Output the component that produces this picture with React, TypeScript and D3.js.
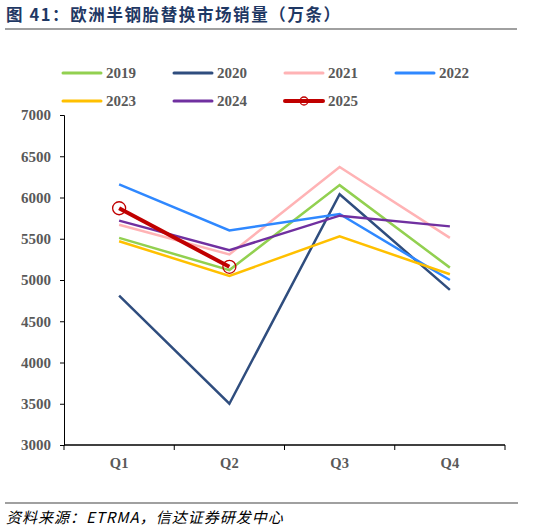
import React, { useRef, useEffect } from 'react';
import * as d3 from 'd3';

const quarters = ['Q1', 'Q2', 'Q3', 'Q4'];
const yTicks = [3000, 3500, 4000, 4500, 5000, 5500, 6000, 6500, 7000];

const years = ['2019', '2020', '2021', '2022', '2023', '2024', '2025'];
const colors = ['#92D050', '#2F4D7E', '#FFB3B5', '#2F88FF', '#FFC000', '#7030A0', '#C00000'];

const s2019 = [5510, 5120, 6150, 5150];
const s2020 = [4810, 3500, 6040, 4880];
const s2021 = [5670, 5310, 6370, 5510];
const s2022 = [6160, 5600, 5800, 5000];
const s2023 = [5470, 5050, 5530, 5070];
const s2024 = [5720, 5360, 5780, 5650];
const s2025 = [5870, 5160];

const series = [s2019, s2020, s2021, s2022, s2023, s2024, s2025];

const W = 538;
const H = 532;

export default function App() {
    const svgRef = useRef<SVGSVGElement>(null);

    useEffect(() => {
        if (!svgRef.current) return;
        const svg = d3.select(svgRef.current);
        svg.selectAll('*').remove();

        const left = 64, right = 505, top = 115, bottom = 445;
        const axisFont = 'Liberation Serif, Times New Roman, serif';
        const grey = '#595959';

        // title
        svg.append('text')
            .attr('x', 6).attr('y', 21)
            .style('font-family', 'Noto Sans CJK SC, sans-serif')
            .style('font-weight', 'bold')
            .style('font-size', '16.5px')
            .style('letter-spacing', '1.6px')
            .attr('fill', '#1F3864')
            .text('图 41：欧洲半钢胎替换市场销量（万条）');

        svg.append('line')
            .attr('x1', 5).attr('x2', 517).attr('y1', 29).attr('y2', 29)
            .attr('stroke', '#808080').attr('stroke-width', 1.5);

        const x = d3.scaleBand().domain(quarters).range([left, right]);
        const y = d3.scaleLinear().domain([3000, 7000]).range([bottom, top]);

        // y axis
        const gy = svg.append('g').attr('transform', `translate(${left},0)`)
            .call(d3.axisLeft(y).tickValues(yTicks).tickSize(4).tickFormat(d3.format('d')));
        gy.attr('font-family', null).attr('font-size', null);
        gy.selectAll('path, line').attr('stroke', '#000').attr('stroke-width', 1);
        gy.selectAll('text')
            .style('font-family', axisFont).style('font-weight', 'bold')
            .style('font-size', '15px').attr('fill', grey).attr('x', -13);

        // x axis
        const gx = svg.append('g').attr('transform', `translate(0,${bottom})`)
            .call(d3.axisBottom(x).tickSize(0).tickFormat(() => ''));
        gx.select('.domain').attr('stroke', '#000').attr('stroke-width', 1.3)
            .attr('d', `M${left},0H${right}`);
        const edges = [...quarters.map(q => x(q)!), right];
        gx.selectAll('.edge').data(edges).enter().append('line')
            .attr('x1', d => d).attr('x2', d => d).attr('y1', 0).attr('y2', 5)
            .attr('stroke', '#000');
        svg.selectAll('.qlab').data(quarters).enter().append('text')
            .attr('x', d => x(d)! + x.bandwidth() / 2)
            .attr('y', 468)
            .attr('text-anchor', 'middle')
            .style('font-family', axisFont).style('font-weight', 'bold')
            .style('font-size', '14.5px').attr('fill', grey)
            .text(d => d);

        // lines
        const line = d3.line<number>()
            .x((_d, i) => x(quarters[i])! + x.bandwidth() / 2)
            .y(d => y(d));

        series.forEach((s, i) => {
            const is25 = years[i] === '2025';
            svg.append('path')
                .attr('d', line(s)!)
                .attr('fill', 'none')
                .attr('stroke', colors[i])
                .attr('stroke-width', is25 ? 4 : 2.5);
            if (is25) {
                svg.selectAll('.m25').data(s).enter().append('circle')
                    .attr('cx', (_d, j) => x(quarters[j])! + x.bandwidth() / 2)
                    .attr('cy', d => y(d))
                    .attr('r', 6.5)
                    .attr('fill', 'none')
                    .attr('stroke', colors[i])
                    .attr('stroke-width', 1.3);
            }
        });

        // legend
        const legX = [63, 174, 285, 396];
        const legY = [73, 101];
        years.forEach((yr, i) => {
            const lx = legX[i % 4];
            const ly = legY[Math.floor(i / 4)];
            const g = svg.append('g');
            const is25 = yr === '2025';
            g.append('line')
                .attr('x1', lx).attr('x2', lx + 38).attr('y1', ly).attr('y2', ly)
                .attr('stroke', colors[i]).attr('stroke-width', is25 ? 4 : 3)
                .attr('stroke-linecap', 'round');
            if (is25) {
                g.append('circle').attr('cx', lx + 19).attr('cy', ly).attr('r', 4)
                    .attr('fill', 'none').attr('stroke', colors[i]).attr('stroke-width', 1.3);
            }
            g.append('text')
                .attr('x', lx + 43).attr('y', ly + 5)
                .style('font-family', axisFont).style('font-weight', 'bold')
                .style('font-size', '15px').attr('fill', grey)
                .text(yr);
        });

        // footer
        svg.append('line')
            .attr('x1', 5).attr('x2', 518).attr('y1', 503).attr('y2', 503)
            .attr('stroke', '#808080').attr('stroke-width', 1.5);
        svg.append('text')
            .attr('x', 6).attr('y', 523)
            .style('font-family', 'Noto Sans CJK SC, sans-serif')
            .style('font-style', 'italic')
            .style('font-size', '15px')
            .style('letter-spacing', '1px')
            .attr('fill', '#000')
            .text('资料来源：ETRMA，信达证券研发中心');
    }, []);

    return (
        <svg
            ref={svgRef}
            width={W}
            height={H}
            viewBox={`0 0 ${W} ${H}`}
            style={{ position: 'absolute', left: 0, top: 0, background: '#fff' }}
        />
    );
}
